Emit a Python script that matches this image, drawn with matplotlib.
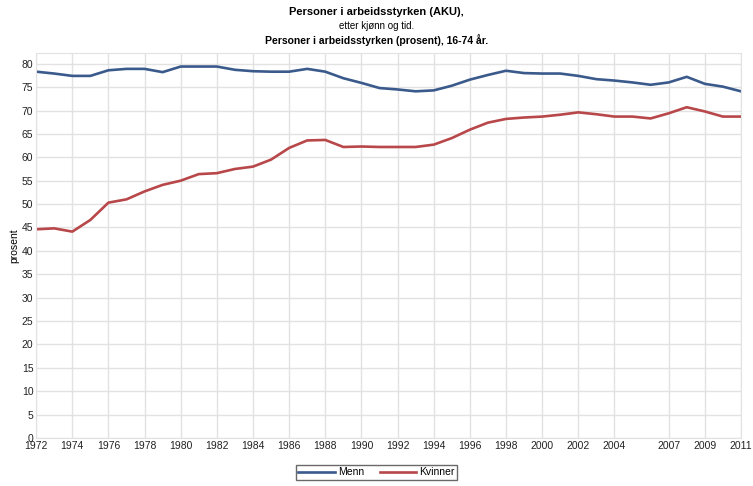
import matplotlib
matplotlib.use('Agg')
import matplotlib.pyplot as plt

years = list(range(1972, 2012))
menn = [78.3, 77.9, 77.4, 77.4, 78.6, 78.9, 78.9, 78.2, 79.4, 79.4,
        79.4, 78.7, 78.4, 78.3, 78.3, 78.9, 78.3, 76.9, 75.9, 74.8,
        74.5, 74.1, 74.3, 75.3, 76.6, 77.6, 78.5, 78.0, 77.9, 77.9,
        77.4, 76.7, 76.4, 76.0, 75.5, 76.0, 77.2, 75.7, 75.1, 74.1]
kvinner = [44.6, 44.8, 44.1, 46.6, 50.3, 51.0, 52.7, 54.1, 55.0, 56.4,
           56.6, 57.5, 58.0, 59.5, 62.0, 63.6, 63.7, 62.2, 62.3, 62.2,
           62.2, 62.2, 62.7, 64.1, 65.9, 67.4, 68.2, 68.5, 68.7, 69.1,
           69.6, 69.2, 68.7, 68.7, 68.3, 69.4, 70.7, 69.8, 68.7, 68.7]
tick_years = list(range(1972, 2005, 2)) + [2007, 2009, 2011]
y_ticks = list(range(0, 81, 5))

plt.rcParams['font.family'] = ['Liberation Sans', 'DejaVu Sans']

fig = plt.figure(figsize=(7.53, 4.86), dpi=100)
ax = fig.add_axes([0.048, 0.099, 0.936, 0.792])

ax.plot(years, menn, color='#3b5a8c', lw=1.9, label='Menn')
ax.plot(years, kvinner, color='#b8474a', lw=1.9, label='Kvinner')

ax.set_xlim(1972, 2011)
ax.set_ylim(0, 82.3)
ax.set_xticks(tick_years)
ax.set_xticklabels([str(y) for y in tick_years])
ax.set_yticks(y_ticks)
ax.tick_params(labelsize=7.5, length=0, pad=2, colors='#222222')
ax.grid(True, color='#e2e2e2', lw=1)
ax.set_axisbelow(True)
for s in ax.spines.values():
    s.set_color('#e2e2e2')
ax.set_ylabel('prosent', fontsize=7.5, labelpad=2)

fig.text(0.5, 0.975, 'Personer i arbeidsstyrken (AKU),', ha='center', va='center',
         fontsize=8, fontweight='bold')
fig.text(0.5, 0.947, 'etter kjønn og tid.', ha='center', va='center', fontsize=7)
fig.text(0.5, 0.918, 'Personer i arbeidsstyrken (prosent), 16-74 år.', ha='center',
         va='center', fontsize=7.5, fontweight='bold')

fig.legend(loc='lower center', bbox_to_anchor=(0.5, 0.002), ncol=2, fontsize=7.5,
           frameon=True, fancybox=False, edgecolor='#444444', handlelength=3.5,
           borderpad=0.25, columnspacing=1.5, handletextpad=0.3)

fig.savefig('out.png', dpi=100)
